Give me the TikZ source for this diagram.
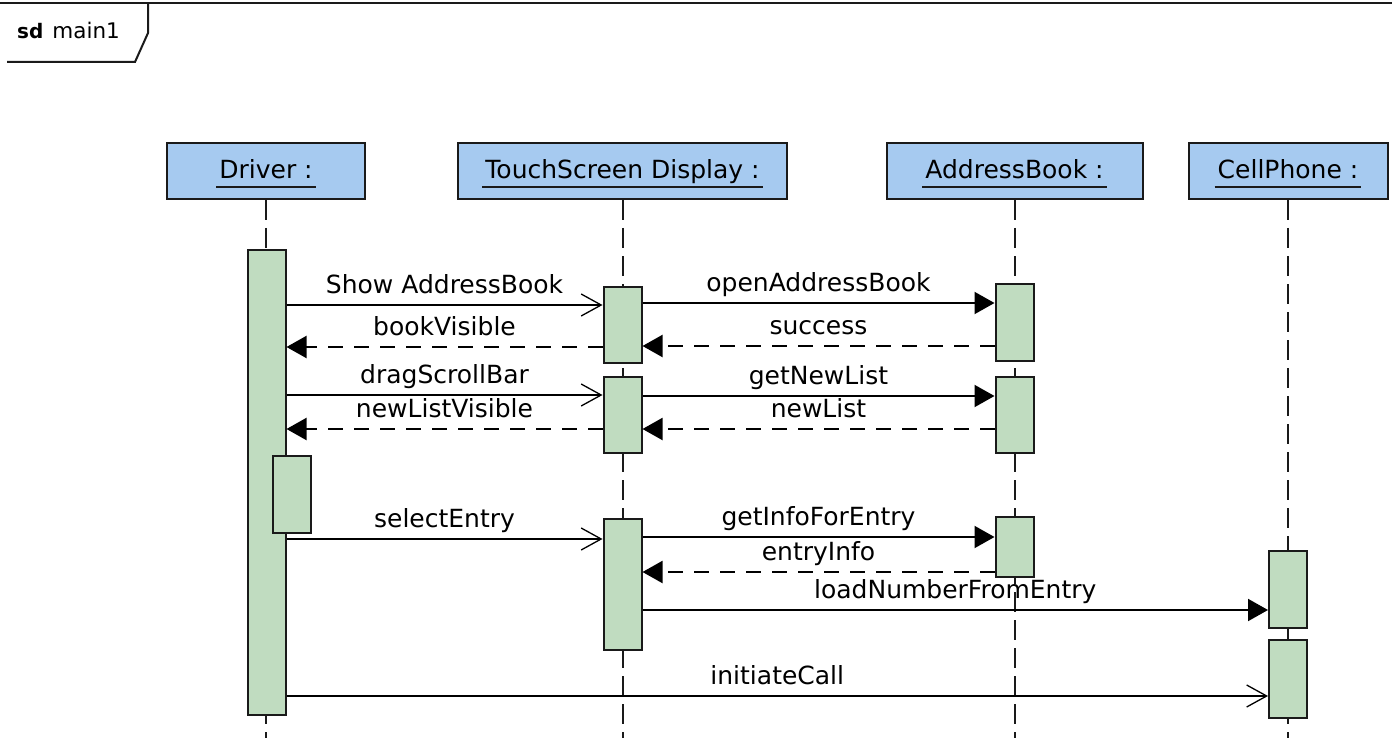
\documentclass[tikz,border=0pt]{standalone}
\usepackage{fontspec}
\setmainfont{DejaVu Sans}
\usetikzlibrary{arrows.meta}
\definecolor{hdrblue}{HTML}{A6CAF0}
\definecolor{actgreen}{HTML}{C0DCC0}
\definecolor{ink}{HTML}{1A1A1A}

\begin{document}
\begin{tikzpicture}[x=1pt,y=-1pt,
  head/.style={draw=ink, line width=2pt, fill=hdrblue, rectangle, minimum height=56pt, inner sep=0pt},
  headtxt/.style={anchor=base, inner sep=0pt, font=\fontsize{25}{30}\selectfont},
  uline/.style={draw=ink, line width=2pt},
  bar/.style={draw=ink, line width=2pt, fill=actgreen, rectangle, minimum width=38pt, inner sep=0pt},
  life/.style={draw=ink, line width=2pt, dash pattern=on 20pt off 8pt},
  call/.style={draw=black, line width=2pt, -{Triangle[length=20pt,width=22pt]}},
  async/.style={draw=black, line width=2pt, -{Straight Barb[length=20pt,width=22pt,line width=1.3pt]}},
  reply/.style={draw=black, line width=2pt, dash pattern=on 15pt off 11pt, -{Triangle[length=20pt,width=22pt]}},
  lbl/.style={anchor=base, inner sep=0pt, yshift=12pt, font=\fontsize{25}{30}\selectfont},
]
\useasboundingbox (0,0) rectangle (1392,738);

% frame with its name tab
\draw[ink, line width=2pt] (0,3) -- (1392,3);
\draw[ink, line width=2pt] (148,3) -- (148,33) -- (135,62) -- (7,62);
\node[anchor=base west, inner sep=0pt] (frameName) at (17,39)
  {\fontsize{20}{24}\selectfont\bfseries sd\hspace{9pt}\fontsize{21.5}{26}\selectfont\mdseries main1};

% lifeline heads
\node[head, minimum width=198pt] (hDrv) at (266,171) {};
\node[head, minimum width=329pt] (hTS)  at (622.5,171) {};
\node[head, minimum width=256pt] (hAB)  at (1014.5,171) {};
\node[head, minimum width=199pt] (hCP)  at (1288,171) {};

\node[headtxt] (tDrv) at (266,179) {Driver :};
\node[headtxt] (tTS)  at (622.5,179) {TouchScreen Display :};
\node[headtxt] (tAB)  at (1014.5,179) {AddressBook :};
\node[headtxt] (tCP)  at (1288,179) {CellPhone :};
\foreach \t in {tDrv,tTS,tAB,tCP}
  \draw[uline] ([xshift=-3pt,yshift=-8pt]\t.base west) -- ([xshift=3pt,yshift=-8pt]\t.base east);

% lifelines
\foreach \h in {hDrv,hTS,hAB,hCP}
  \draw[life] (\h.south) -- (\h.south |- 0,738);

% activation bars
\node[bar, minimum height=465pt] (drv)  at (266.5,482) {};
\node[bar, minimum height=77pt]  (drvN) at (291.5,494) {};
\node[bar, minimum height=76pt]  (ts1)  at (622.5,324.5) {};
\node[bar, minimum height=76pt]  (ts2)  at (622.5,414.5) {};
\node[bar, minimum height=131pt] (ts3)  at (622.5,584.5) {};
\node[bar, minimum height=77pt]  (ab1)  at (1014.5,322) {};
\node[bar, minimum height=76pt]  (ab2)  at (1014.5,415) {};
\node[bar, minimum height=60pt]  (ab3)  at (1014.5,547) {};
\node[bar, minimum height=77pt]  (cp1)  at (1288,589.5) {};
\node[bar, minimum height=78pt]  (cp2)  at (1288,679) {};

% messages
\draw[async] (drv.east |- 0,305) -- (ts1.west |- 0,305) node[lbl, midway] (m1) {Show AddressBook};
\draw[call]  (ts1.east |- 0,303) -- (ab1.west |- 0,303) node[lbl, midway] (m2) {openAddressBook};
\draw[reply] (ab1.west |- 0,346) -- (ts1.east |- 0,346) node[lbl, midway] (m3) {success};
\draw[reply] (ts1.west |- 0,347) -- (drv.east |- 0,347) node[lbl, midway] (m4) {bookVisible};
\draw[async] (drv.east |- 0,395) -- (ts2.west |- 0,395) node[lbl, midway] (m5) {dragScrollBar};
\draw[call]  (ts2.east |- 0,396) -- (ab2.west |- 0,396) node[lbl, midway] (m6) {getNewList};
\draw[reply] (ab2.west |- 0,429) -- (ts2.east |- 0,429) node[lbl, midway] (m7) {newList};
\draw[reply] (ts2.west |- 0,429) -- (drv.east |- 0,429) node[lbl, midway] (m8) {newListVisible};
\draw[async] (drv.east |- 0,539) -- (ts3.west |- 0,539) node[lbl, midway] (m9) {selectEntry};
\draw[call]  (ts3.east |- 0,537) -- (ab3.west |- 0,537) node[lbl, midway] (m10) {getInfoForEntry};
\draw[reply] (ab3.west |- 0,572) -- (ts3.east |- 0,572) node[lbl, midway] (m11) {entryInfo};
\draw[call]  (ts3.east |- 0,610) -- (cp1.west |- 0,610) node[lbl, midway] (m12) {loadNumberFromEntry};
\draw[async] (drv.east |- 0,696) -- (cp2.west |- 0,696) node[lbl, midway] (m13) {initiateCall};
\end{tikzpicture}
\end{document}
